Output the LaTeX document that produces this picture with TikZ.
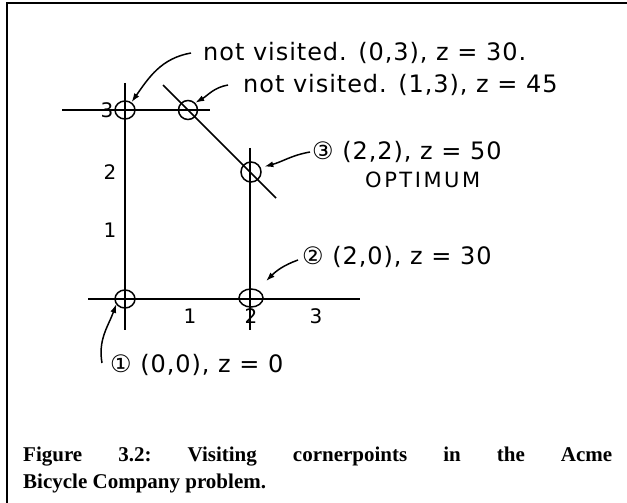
\documentclass[tikz,border=0pt]{standalone}
\usepackage{fontspec}
\setmainfont{Liberation Serif}
\newfontfamily\hand{DejaVu Sans}[LetterSpace=4]
\newfontfamily\handwide{DejaVu Sans}[LetterSpace=12]
\usetikzlibrary{positioning, arrows.meta, shapes.geometric}

\begin{document}
\begin{tikzpicture}[x=1bp, y=-1bp,
    corner/.style={draw, ellipse, inner sep=0pt, line width=1.5pt},
    note/.style={anchor=west, inner sep=0pt,
      font=\hand\fontsize{24bp}{28bp}\selectfont},
    ticklabel/.style={inner sep=0pt, font=\hand\fontsize{20bp}{24bp}\selectfont},
    axis/.style={line width=1.5pt},
    pointer/.style={-{Latex[length=9bp, width=6bp]}, line width=1.5pt},
]
    \useasboundingbox (0,0) rectangle (627,503);
    % Frame
    \draw[line width=2.5pt] (7,503) -- (7,3) -- (627,3);

    % Axes and constraint lines
    \draw[axis] (88,299) -- (360,299);
    \draw[axis] (125,83) -- (125,330);
    \draw[axis] (250,148) -- (250,330);
    \draw[axis] (62,110) -- (210,110);
    \draw[axis] (163,85) -- (276,198);

    % Tick labels
    \node[ticklabel] (y3) at (107,110) {3};
    \node[ticklabel] (y2) at (110,172) {2};
    \node[ticklabel] (y1) at (110,230) {1};
    \node[ticklabel] (x1) at (190,316) {1};
    \node[ticklabel] (x2) at (251,316) {2};
    \node[ticklabel] (x3) at (316,316) {3};

    % Cornerpoints
    \node[corner, minimum width=20bp, minimum height=18bp] (c03) at (125,110) {};
    \node[corner, minimum width=19bp, minimum height=19bp] (c13) at (188,110) {};
    \node[corner, minimum width=20bp, minimum height=20bp] (c22) at (251,172) {};
    \node[corner, minimum width=20bp, minimum height=18bp] (c00) at (125,299) {};
    \node[corner, minimum width=24bp, minimum height=18bp] (c20) at (251,298) {};

    % Notes
    \node[note] (l03) at (203,53) {not visited. (0,3), z = 30.};
    \node[note] (l13) at (243,85) {not visited. (1,3), z = 45};
    \node[note] (l22) at (312,152) {③ (2,2), z = 50};
    \node[note, font=\handwide\fontsize{21bp}{24bp}\selectfont] (lopt) at (365,180) {OPTIMUM};
    \node[note] (l20) at (302,257) {② (2,0), z = 30};
    \node[note] (l00) at (110,365) {① (0,0), z = 0};

    \draw[pointer] ([xshift=-12bp]l03.west) to[out=190, in=55] (c03.50);
    \draw[pointer] ([xshift=-15bp]l13.west) to[out=190, in=30] (c13.45);
    \draw[pointer] ([xshift=-2bp]l22.west) to[out=190, in=15] ([xshift=4bp]c22.30);
    \draw[pointer] ([xshift=-4bp, yshift=-3bp]l20.west) to[out=200, in=45] ([shift={(6bp,10bp)}]c20.north east);
    \draw[pointer] ([xshift=-8bp, yshift=2bp]l00.west) to[out=100, in=250] ([shift={(-1bp,2bp)}]c00.south west);

    % Caption
    \node[anchor=west, inner sep=0pt, align=left,
      font=\bfseries\fontsize{21bp}{27bp}\selectfont\frenchspacing] (cap) at (23,470)
      {\makebox[589bp][s]{Figure 3.2: Visiting cornerpoints in the Acme}\\Bicycle Company problem.};
\end{tikzpicture}
\end{document}
